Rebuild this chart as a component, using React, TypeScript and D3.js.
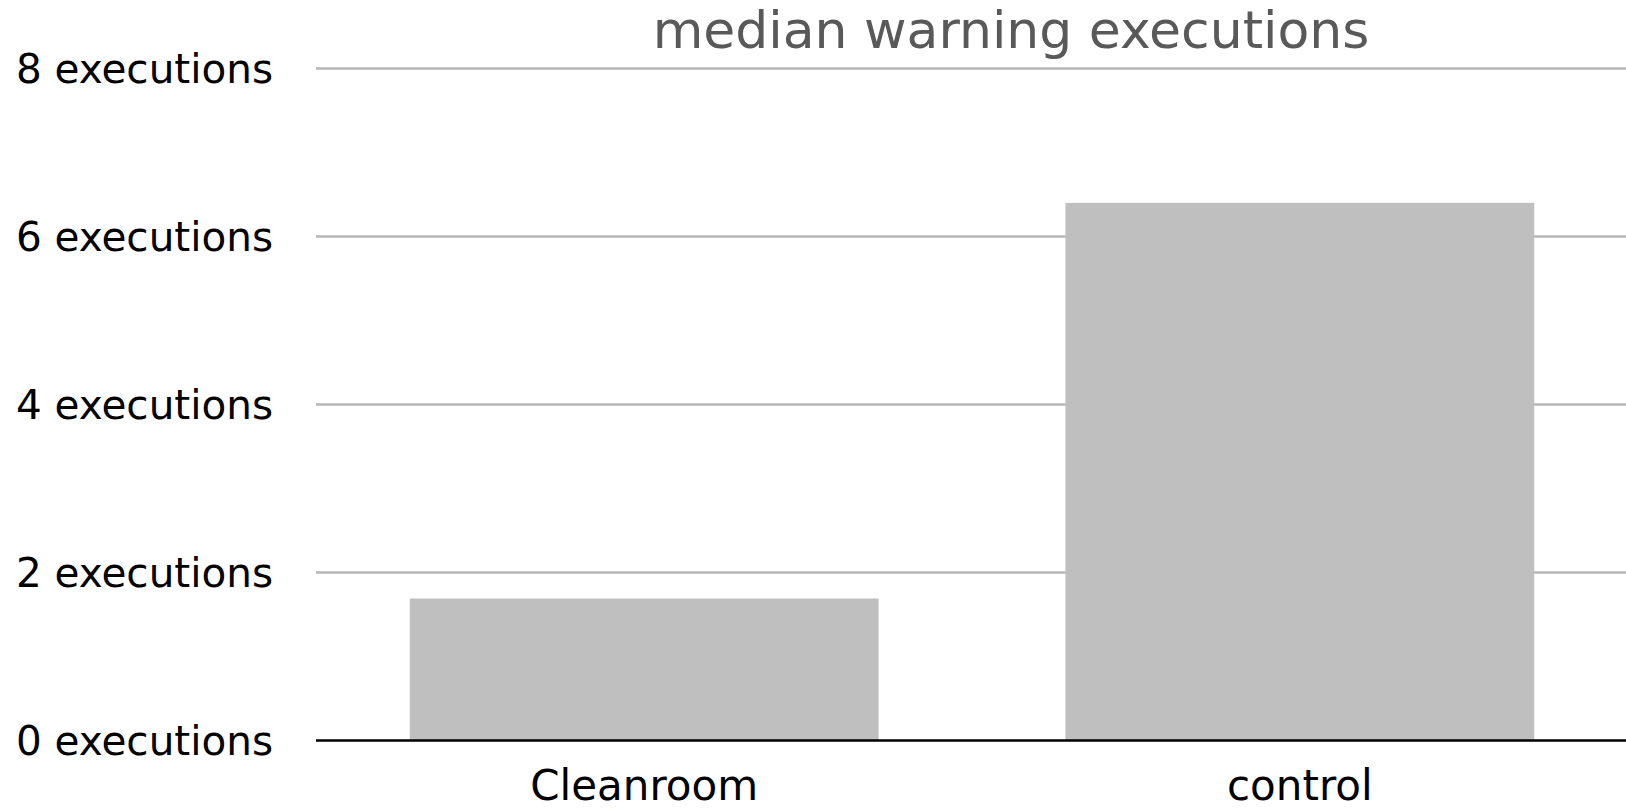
import React from "react";
import * as d3 from "d3";

const categories = ["Cleanroom", "control"];
const values = [1.69, 6.4];
const yTicks = [0, 2, 4, 6, 8];
const title = "median warning executions";

const W = 1626;
const H = 812;
const FONT = "'DejaVu Sans', sans-serif";

export default function App() {
	const x = d3
		.scaleBand<string>()
		.domain(categories)
		.range([316, 1628])
		.paddingInner(0.285)
		.paddingOuter(0.143);

	const y = d3.scaleLinear().domain([0, 8]).range([740.5, 68.4]);

	return (
		<svg
			width={W}
			height={H}
			style={{ position: "absolute", left: 0, top: 0, background: "#fff" }}
		>
			{/* gridlines */}
			{yTicks
				.filter((t) => t !== 0)
				.map((t) => (
					<line
						key={t}
						x1={316}
						x2={W}
						y1={y(t)}
						y2={y(t)}
						stroke="#b7b7b7"
						strokeWidth={2.5}
					/>
				))}

			{/* bars */}
			{categories.map((c, i) => (
				<rect
					key={c}
					x={x(c)}
					y={y(values[i])}
					width={x.bandwidth()}
					height={y(0) - y(values[i])}
					fill="#bfbfbf"
				/>
			))}

			{/* baseline */}
			<line x1={316} x2={W} y1={y(0)} y2={y(0)} stroke="#000" strokeWidth={2.5} />

			{/* y labels */}
			{yTicks.map((t) => (
				<text
					key={t}
					x={273}
					y={y(t)}
					dy="0.36em"
					textAnchor="end"
					fontFamily={FONT}
					fontSize={40.5}
					fill="#000"
				>
					{t} executions
				</text>
			))}

			{/* x labels */}
			{categories.map((c) => (
				<text
					key={c}
					x={(x(c) ?? 0) + x.bandwidth() / 2}
					y={800}
					textAnchor="middle"
					fontFamily={FONT}
					fontSize={42}
					fill="#000"
				>
					{c}
				</text>
			))}

			<text
				x={1011}
				y={48}
				textAnchor="middle"
				fontFamily={FONT}
				fontSize={52}
				fill="#595959"
			>
				{title}
			</text>
		</svg>
	);
}
